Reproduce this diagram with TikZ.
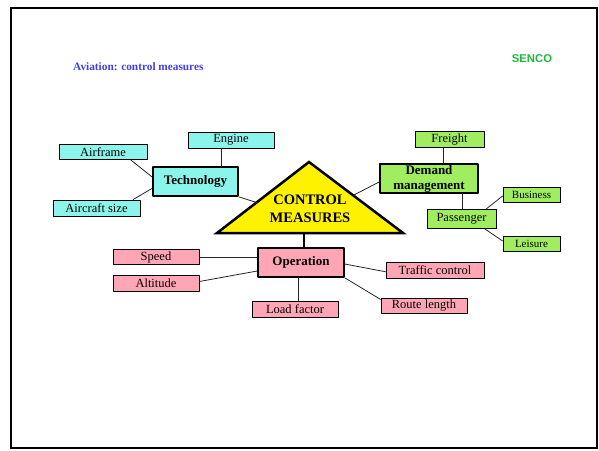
\documentclass[tikz,border=0pt]{standalone}
\usepackage{fontspec}
\setmainfont{Liberation Serif}
\newfontfamily\arialfont{Liberation Sans}
\usetikzlibrary{calc}
\definecolor{techcyan}{RGB}{140,245,235}
\definecolor{demgreen}{RGB}{160,238,96}
\definecolor{oppink}{RGB}{255,165,182}
\definecolor{titleblue}{RGB}{64,64,224}
\definecolor{sencogreen}{RGB}{30,185,60}
\begin{document}
\begin{tikzpicture}[x=1pt, y=-1pt, line join=round, line cap=round,
	leaf/.style={draw, line width=0.9pt, inner sep=0pt, minimum height=16pt, minimum width=86pt, font=\fontsize{12.5}{14}\selectfont},
	hub/.style={draw, line width=1.8pt, inner sep=0pt, minimum height=29pt, minimum width=86pt, align=center, font=\fontsize{13}{15}\selectfont\bfseries},
	link/.style={line width=0.8pt, black!85}]
	\useasboundingbox (0,0) rectangle (599,450);
	\draw[line width=2.5pt, line join=miter] (11,8) rectangle (597,448);
	\node[anchor=west, inner sep=0pt, text=titleblue, font=\fontsize{11.3}{13}\selectfont\bfseries] (title) at (73,67) {Aviation: control measures};
	\node[text=sencogreen, font=\arialfont\fontsize{11.3}{13}\selectfont\bfseries] (senco) at (532,59) {SENCO};
	% centre triangle
	\coordinate (apex) at (309,162);
	\coordinate (bl) at (217,233);
	\coordinate (br) at (403,233);
	\draw[fill=yellow, line width=2.5pt, line join=miter] (apex)--(bl)--(br)--cycle;
	\node[font=\fontsize{14.5}{17.5}\selectfont\bfseries, align=center] (cm) at (310,209) {CONTROL\\MEASURES};
	\coordinate (cmleft) at ($(apex)!0.57!(bl)$);
	\coordinate (cmright) at ($(apex)!0.47!(br)$);
	\coordinate (cmbase) at ($(bl)!0.468!(br)$);
	% technology
	\node[hub, fill=techcyan, minimum width=85pt] (tech) at (195.5,181.5) {Technology};
	\node[leaf, fill=techcyan] (engine) at (231,140) {Engine};
	\node[leaf, fill=techcyan, minimum width=88pt, minimum height=15pt] (airframe) at (103,152) {Airframe};
	\node[leaf, fill=techcyan, minimum width=87pt] (acsize) at (96.5,208) {Aircraft size};
	% demand
	\node[hub, fill=demgreen, minimum width=98pt] (demand) at (429,178.5) {Demand\\management};
	\node[leaf, fill=demgreen, minimum width=69pt] (freight) at (449.5,139.5) {Freight};
	\node[leaf, fill=demgreen, minimum width=69pt, minimum height=19pt] (pass) at (461.5,219) {Passenger};
	\node[leaf, fill=demgreen, minimum width=57pt, minimum height=15pt, font=\fontsize{11}{13}\selectfont] (business) at (531.5,194.5) {Business};
	\node[leaf, fill=demgreen, minimum width=57pt, minimum height=15pt, font=\fontsize{11}{13}\selectfont] (leisure) at (531.5,243.5) {Leisure};
	% operation
	\node[hub, fill=oppink] (op) at (301,262.5) {Operation};
	\node[leaf, fill=oppink, minimum height=15pt] (speed) at (156,257) {Speed};
	\node[leaf, fill=oppink] (altitude) at (156,283) {Altitude};
	\node[leaf, fill=oppink, minimum width=98pt] (traffic) at (435,270) {Traffic control};
	\node[leaf, fill=oppink] (load) at (295,309) {Load factor};
	\node[leaf, fill=oppink, minimum height=15pt] (route) at (424,305.5) {Route length};
	% links
	\draw[link] (engine.222) -- (engine.222 |- tech.north);
	\draw[link] (airframe.344.5) -- (tech.174);
	\draw[link] (acsize.13.8) -- (tech.189.4);
	\draw[link] (tech.south east) -- (cmleft);
	\draw[link] (cmright) -- (demand.184);
	\draw[link] (freight.235.5) -- (freight.235.5 |- demand.north);
	\draw[link] (demand.335.6) -- (demand.335.6 |- pass.north);
	\draw[link] (pass.22) -- (business.183);
	\draw[link] (pass.337) -- (leisure.175);
	\draw[line width=2pt] (cmbase) -- (cmbase |- op.north);
	\draw[link] (speed.east) -- (speed.east -| op.west);
	\draw[link] (altitude.2.7) -- (op.191.2);
	\draw[link] (op.358) -- (traffic.182.3);
	\draw[link] (op.262) -- (op.262 |- load.north);
	\draw[link] (op.south east) -- (route.172.7);
\end{tikzpicture}
\end{document}
